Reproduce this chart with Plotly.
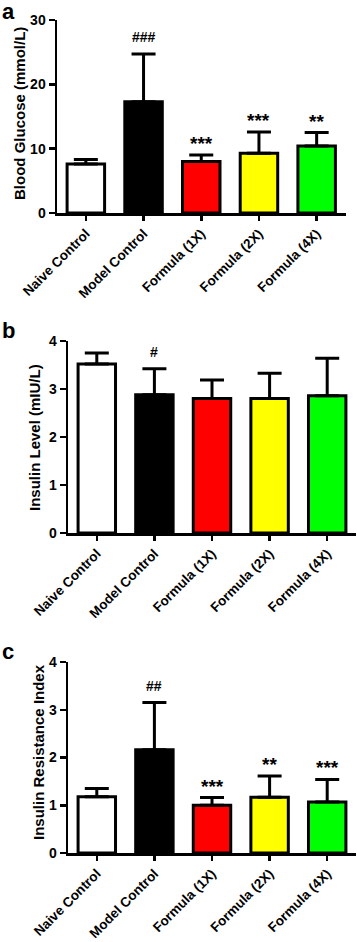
import plotly.graph_objects as go

# ---------------- data ----------------
categories = ["Naive Control", "Model Control", "Formula (1X)", "Formula (2X)", "Formula (4X)"]
bar_colors = ["#FFFFFF", "#000000", "#FF0000", "#FFFF00", "#00FF00"]

glucose_mean = [7.6, 17.3, 8.0, 9.3, 10.4]
glucose_sd = [0.7, 7.4, 1.0, 3.3, 2.1]
glucose_sig = ["", "###", "***", "***", "**"]

insulin_mean = [3.52, 2.88, 2.80, 2.80, 2.86]
insulin_sd = [0.23, 0.54, 0.39, 0.53, 0.78]
insulin_sig = ["", "#", "", "", ""]

homa_mean = [1.18, 2.16, 1.00, 1.17, 1.07]
homa_sd = [0.17, 0.99, 0.16, 0.44, 0.47]
homa_sig = ["", "##", "***", "**", "***"]

glucose_ticks = [0, 10, 20, 30]
insulin_ticks = [0, 1, 2, 3, 4]
homa_ticks = [0, 1, 2, 3, 4]

# ---------------- layout geometry (pixels) ----------------
W, H = 357, 942
FONT = "Arial, 'Liberation Sans', sans-serif"

def px_x(p):
    return p / W

def px_y(p):
    return 1 - p / H

panels = [
    dict(ax="", mean=glucose_mean, sd=glucose_sd, sig=glucose_sig, ticks=glucose_ticks,
         yr=[0, 30], xdom=[57, 345.5], ydom=[213, 20], title="Blood Glucose (mmol/L)",
         tpos=(20, 114), label="a", lpos=(0, -3)),
    dict(ax="2", mean=insulin_mean, sd=insulin_sd, sig=insulin_sig, ticks=insulin_ticks,
         yr=[0, 4], xdom=[68, 356], ydom=[533, 341], title="Insulin Level (mIU/L)",
         tpos=(34, 438), label="b", lpos=(0, 316)),
    dict(ax="3", mean=homa_mean, sd=homa_sd, sig=homa_sig, ticks=homa_ticks,
         yr=[0, 4], xdom=[68, 356], ydom=[853, 662], title="Insulin Resistance Index",
         tpos=(38, 752), label="c", lpos=(0, 637)),
]

fig = go.Figure()
annotations = []
layout = {}

for p in panels:
    a = p["ax"]
    fig.add_trace(go.Bar(
        x=categories, y=p["mean"],
        xaxis="x" + a, yaxis="y" + a,
        width=0.65,
        marker=dict(color=bar_colors, line=dict(color="black", width=3)),
        error_y=dict(type="data", array=p["sd"], arrayminus=[0] * len(p["sd"]),
                     symmetric=False, color="black", thickness=3, width=12),
        showlegend=False, hoverinfo="skip",
    ))
    layout["xaxis" + a] = dict(
        domain=[px_x(p["xdom"][0]), px_x(p["xdom"][1])],
        anchor="y" + a, range=[-0.5, 4.5], automargin=False,
        showline=True, linecolor="black", linewidth=2.5,
        ticks="outside", ticklen=5, tickwidth=2.5, tickcolor="black",
        tickangle=-45, showgrid=False, zeroline=False,
        tickfont=dict(family=FONT, size=13.5, color="black", weight="bold"),
    )
    layout["yaxis" + a] = dict(
        domain=[px_y(p["ydom"][0]), px_y(p["ydom"][1])],
        anchor="x" + a, range=p["yr"], tickvals=p["ticks"], automargin=False,
        showline=True, linecolor="black", linewidth=2.5,
        ticks="outside", ticklen=6, tickwidth=2.5, tickcolor="black",
        showgrid=False, zeroline=False,
        tickfont=dict(family=FONT, size=14, color="black", weight="bold"),
    )
    # significance marks
    for c, m, s, t in zip(categories, p["mean"], p["sd"], p["sig"]):
        if not t:
            continue
        star = t.startswith("*")
        annotations.append(dict(
            x=c, y=m + s, xref="x" + a, yref="y" + a,
            text=t, showarrow=False, yanchor="bottom",
            yshift=-1 if star else 7,
            font=dict(family=FONT, size=19 if star else 14, color="black", weight="bold"),
        ))
    # y title
    annotations.append(dict(
        x=px_x(p["tpos"][0]), y=px_y(p["tpos"][1]), xref="paper", yref="paper",
        text=p["title"], textangle=-90, showarrow=False,
        xanchor="center", yanchor="middle",
        font=dict(family=FONT, size=15, color="black", weight="bold"),
    ))
    # panel letter
    annotations.append(dict(
        x=px_x(p["lpos"][0]), y=px_y(p["lpos"][1]), xref="paper", yref="paper",
        text=p["label"], showarrow=False, xanchor="left", yanchor="top",
        font=dict(family=FONT, size=22, color="black", weight="bold"),
    ))

fig.update_layout(
    width=W, height=H,
    margin=dict(l=0, r=0, t=0, b=0, autoexpand=False),
    paper_bgcolor="white", plot_bgcolor="white",
    showlegend=False, bargap=0.3,
    annotations=annotations,
    **layout,
)

fig.write_html(
    "out.html",
    config={"displayModeBar": False, "staticPlot": True},
    post_script="document.body.style.margin='0';document.body.style.overflow='hidden';",
)
